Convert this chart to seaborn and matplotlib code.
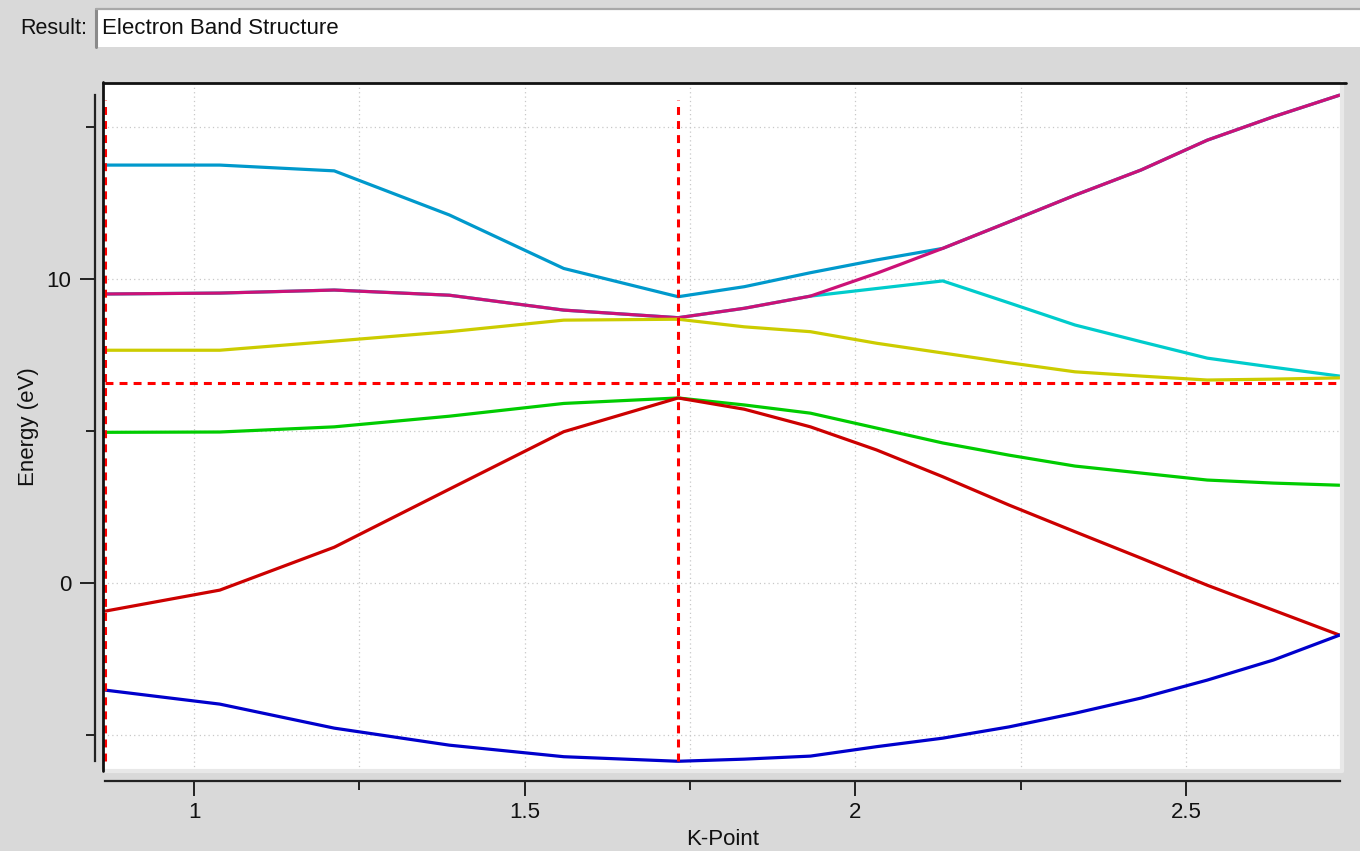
import numpy as np
import pandas as pd
import matplotlib
matplotlib.use("Agg")
import matplotlib.pyplot as plt
import seaborn as sns
from matplotlib.lines import Line2D
from matplotlib.patches import Rectangle

# k-path (path length) where the bands were sampled
kpoints = [0.866, 1.039, 1.212, 1.386, 1.559, 1.732,
           1.832, 1.932, 2.032, 2.132, 2.232, 2.332, 2.432, 2.532, 2.632, 2.732]

# band energies (eV), lowest band first
band1 = [-3.52, -3.98, -4.77, -5.33, -5.71, -5.86, -5.79, -5.69, -5.38, -5.10, -4.73, -4.28, -3.78, -3.19, -2.53, -1.71]
band2 = [-0.92, -0.23, 1.18, 3.09, 4.98, 6.09, 5.72, 5.14, 4.38, 3.50, 2.57, 1.69, 0.82, -0.07, -0.89, -1.71]
band3 = [4.96, 4.97, 5.14, 5.49, 5.91, 6.09, 5.86, 5.59, 5.10, 4.61, 4.21, 3.85, 3.62, 3.39, 3.29, 3.22]
band4 = [7.66, 7.66, 7.96, 8.27, 8.65, 8.68, 8.43, 8.27, 7.89, 7.57, 7.25, 6.95, 6.81, 6.68, 6.71, 6.75]
band5 = [9.51, 9.54, 9.64, 9.47, 8.98, 8.73, 9.04, 9.44, 10.19, 11.01, 11.88, 12.76, 13.59, 14.57, 15.34, 16.05]
band6 = [9.51, 9.54, 9.64, 9.47, 8.98, 8.73, 9.04, 9.44, 9.69, 9.94, 9.22, 8.49, 7.94, 7.40, 7.10, 6.81]
band7 = [13.75, 13.75, 13.56, 12.11, 10.35, 9.42, 9.75, 10.21, 10.63, 11.01, 11.88, 12.76, 13.59, 14.57, 15.34, 16.05]

band_colors = {"band1": "#0000cc", "band2": "#cc0000", "band3": "#00cc00", "band4": "#cccc00",
               "band5": "#cc1177", "band6": "#00cccc", "band7": "#0099cc"}
# drawing order (last one ends up on top)
draw_order = ["band7", "band6", "band5", "band4", "band3", "band2", "band1"]

fermi = 6.57
sym_k = [0.866, 1.732]

xticks = [1, 1.5, 2, 2.5]
xtick_labels = ["1", "1.5", "2", "2.5"]
xminor = [1.25, 1.75, 2.25]
yticks = [0, 10]
ytick_labels = ["0", "10"]
yminor = [-5, 5, 15]

bands = {"band1": band1, "band2": band2, "band3": band3, "band4": band4,
         "band5": band5, "band6": band6, "band7": band7}
df = pd.DataFrame({
    "K-Point": np.tile(kpoints, len(bands)),
    "Energy (eV)": np.concatenate([bands[b] for b in bands]),
    "band": np.repeat(list(bands.keys()), len(kpoints)),
})

sns.set_style("white")
plt.rcParams["font.family"] = ["Liberation Sans", "DejaVu Sans"]
bg = "#d9d9d9"
fs = 16

fig = plt.figure(figsize=(13.6, 8.51), dpi=100, facecolor=bg)
W, H = 1360, 851

# "Result:" header strip
fig.text(20 / W, 1 - 28 / H, "Result:", fontsize=15.5, va="center", ha="left", color="#111")
fig.patches.append(Rectangle((96 / W, 1 - 47 / H), (W - 96) / W, 38 / H, transform=fig.transFigure,
                             facecolor="white", edgecolor="none"))
fig.lines.append(Line2D([96 / W, 96 / W], [1 - 47 / H, 1 - 9 / H], transform=fig.transFigure,
                        color="#8a8a8a", lw=2.2))
fig.lines.append(Line2D([96 / W, 1], [1 - 9 / H, 1 - 9 / H], transform=fig.transFigure,
                        color="#a8a8a8", lw=1.6))
fig.text(102 / W, 1 - 28 / H, "Electron Band Structure", fontsize=fs, va="center", ha="left", color="#111")

# plot area
left, right, top, bottom = 103, 1342, 83, 771
ax = fig.add_axes([left / W, 1 - bottom / H, (right - left) / W, (bottom - top) / H])
ax.set_facecolor("white")

sns.lineplot(data=df, x="K-Point", y="Energy (eV)", hue="band", hue_order=draw_order,
             palette=band_colors, estimator=None, sort=False, legend=False, linewidth=2.3, ax=ax)

ymin = min(band1)
ymax = max(band5)
dash = (0, (2.6, 2.0))
for k in sym_k:
    ax.plot([k, k], [ymin, ymax - 0.15], color="#ff0000", lw=2.2, linestyle=dash)
ax.plot([kpoints[0], kpoints[-1]], [fermi, fermi], color="#ff0000", lw=2.2, linestyle=dash)

ax.set_xlim(0.8624, 2.7357)
ax.set_ylim(-6.18, 16.45)

ax.set_xticks(xticks)
ax.set_xticklabels(xtick_labels)
ax.set_xticks(xminor, minor=True)
ax.set_yticks(yticks)
ax.set_yticklabels(ytick_labels)
ax.set_yticks(yminor, minor=True)
ax.tick_params(which="both", bottom=True, left=True, top=False, right=False)
ax.tick_params(which="major", direction="out", length=10.8, width=1.4, color="#222",
               labelsize=fs, labelcolor="#111", pad=4)
ax.tick_params(which="minor", direction="out", length=6.5, width=1.4, color="#222")
ax.tick_params(axis="y", which="major", pad=6)

ax.grid(which="both", color="#c8c8c8", linestyle=(0, (1, 2.5)), linewidth=0.9)
ax.set_axisbelow(True)

ax.spines["top"].set_visible(False)
ax.spines["right"].set_visible(False)
ax.spines["left"].set_position(("outward", 5.8))
ax.spines["left"].set_bounds(ymin, ymax)
ax.spines["bottom"].set_position(("outward", 7.2))
ax.spines["bottom"].set_bounds(kpoints[0], kpoints[-1])
for s in ["left", "bottom"]:
    ax.spines[s].set_color("#222")
    ax.spines[s].set_linewidth(1.6)

# sunken frame around the plot area
ax.add_line(Line2D([1, 1], [0, 1], transform=ax.transAxes, color="#e8e8e8", lw=3, clip_on=False))
ax.add_line(Line2D([0, 1], [0, 0], transform=ax.transAxes, color="#e8e8e8", lw=3, clip_on=False))
ax.add_line(Line2D([0, 0], [0, 1.002], transform=ax.transAxes, color="#111", lw=2, clip_on=False))
ax.add_line(Line2D([0, 1.003], [1, 1], transform=ax.transAxes, color="#111", lw=2, clip_on=False))

ax.set_xlabel("K-Point", fontsize=fs, color="#111")
ax.set_ylabel("Energy (eV)", fontsize=fs, color="#111")
ax.xaxis.set_label_coords(0.5, -0.084)
ax.yaxis.set_label_coords(-0.052, 0.5)

fig.savefig("out.png", dpi=100, facecolor=bg)
